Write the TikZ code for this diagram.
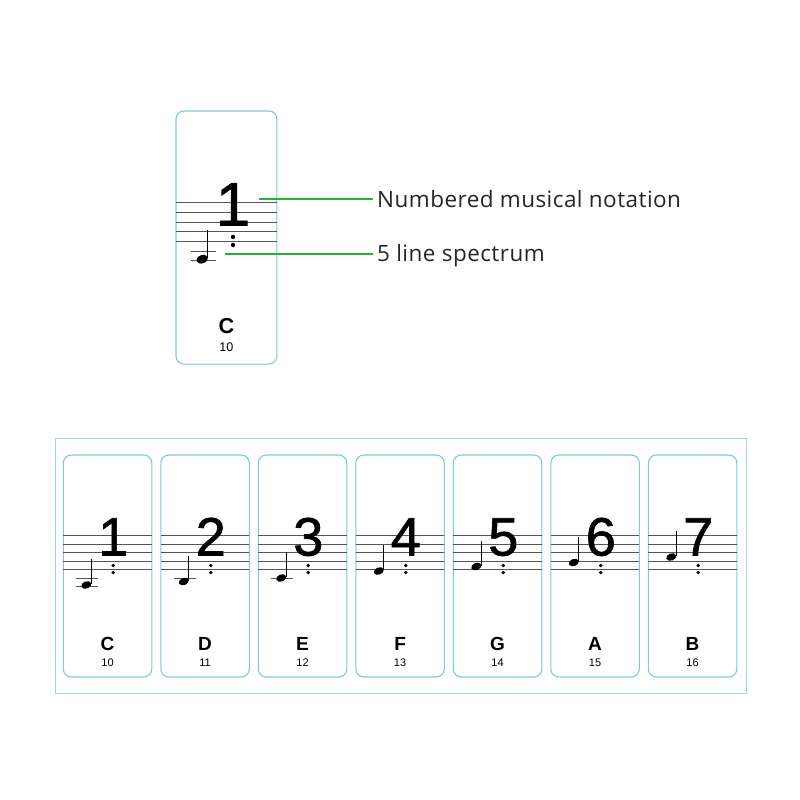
\documentclass[tikz,border=0pt]{standalone}
\usepackage{fontspec}
\setmainfont{Liberation Sans}
\newfontfamily\labelfont{Open Sans}[LetterSpace=2]
\newfontfamily\digitfont{Liberation Sans}[FakeBold=1.3]
\usetikzlibrary{positioning,calc}

\definecolor{cardblue}{RGB}{128,200,226}
\definecolor{frameblue}{RGB}{150,212,232}
\definecolor{staffgray}{RGB}{85,85,85}
\definecolor{leadgreen}{RGB}{40,175,60}

% one key card, local origin at its top left corner
% #1 name, #2 digit, #3 letter, #4 number, #5 head depth, #6 ledger count
\newcommand{\keycard}[6]{%
  \node[card] (#1) at (44.25,-111) {};
  \foreach \v in {80.5,89,97.5,106,114.5}
    \draw[staff] (0,-\v) -- (88.5,-\v);
  \ifnum#6>0 \draw[staff] (13,-123) -- (35,-123); \fi
  \ifnum#6>1 \draw[staff] (13,-131) -- (35,-131); \fi
  \fill[rotate around={20:(23,-#5)}] (23,-#5) ellipse [x radius=5.2, y radius=3.6];
  \draw[stem] (27.8,-#5+1) -- (27.8,-#5+26);
  \node[digit] (#1-d) at (50,-100.5) {#2};
  \fill (50,-110.5) circle (1.9) (50,-117.5) circle (1.9);
  \node[keyletter] (#1-l) at (44.25,-195) {#3};
  \node[keynum] (#1-n) at (44.25,-211) {#4};
}

\begin{document}
\begin{tikzpicture}[
  x=1pt, y=1pt,
  card/.style={draw=cardblue, line width=1.1pt, rounded corners=8pt, minimum width=88.5pt, minimum height=222pt, inner sep=0pt},
  frame/.style={draw=frameblue, line width=1pt, minimum width=691pt, minimum height=255pt, inner sep=0pt},
  staff/.style={draw=staffgray, line width=0.9pt},
  stem/.style={line width=1.2pt},
  digit/.style={anchor=base, inner sep=0pt, font=\digitfont\fontsize{54}{60}\selectfont},
  keyletter/.style={anchor=base, inner sep=0pt, font=\bfseries\fontsize{19}{22}\selectfont},
  keynum/.style={anchor=base, inner sep=0pt, font=\fontsize{11}{13}\selectfont},
  lab/.style={anchor=base west, inner xsep=4pt, font=\labelfont\fontsize{22.5}{27}\selectfont, text=black!85},
  lead/.style={draw=leadgreen, line width=1.3pt}
]
\fill[white] (0,0) rectangle (800,-800);
\useasboundingbox (0,0) rectangle (800,-800);

% single card with callouts
\begin{scope}[shift={(176,-111)}, scale=1.14, transform shape]
  \keycard{top}{1}{C}{10}{130}{2}
  \coordinate (tipA) at (73,-77.2);
  \coordinate (tipB) at (43,-125.4);
\end{scope}

\node[lab] (notation) at (373,-207) {Numbered musical notation};
\node[lab] (spectrum) at (373,-261) {5 line spectrum};
\draw[lead] (tipA) -- (tipA -| notation.west);
\draw[lead] (tipB) -- (tipB -| spectrum.west);

% row of seven cards
\node[frame] (panel) at (400.5,-565.5) {};
\foreach \i/\dg/\lt/\nm/\hv/\lc [count=\k from 0] in
  {c/1/C/10/130/2, d/2/D/11/126.5/1, e/3/E/12/123/1, f/4/F/13/116/0,
   g/5/G/14/111.5/0, a/6/A/15/107.5/0, b/7/B/16/102/0}
{
  \begin{scope}[shift={(63.3+97.5*\k,-455)}]
    \keycard{key-\i}{\dg}{\lt}{\nm}{\hv}{\lc}
  \end{scope}
}
\end{tikzpicture}
\end{document}
